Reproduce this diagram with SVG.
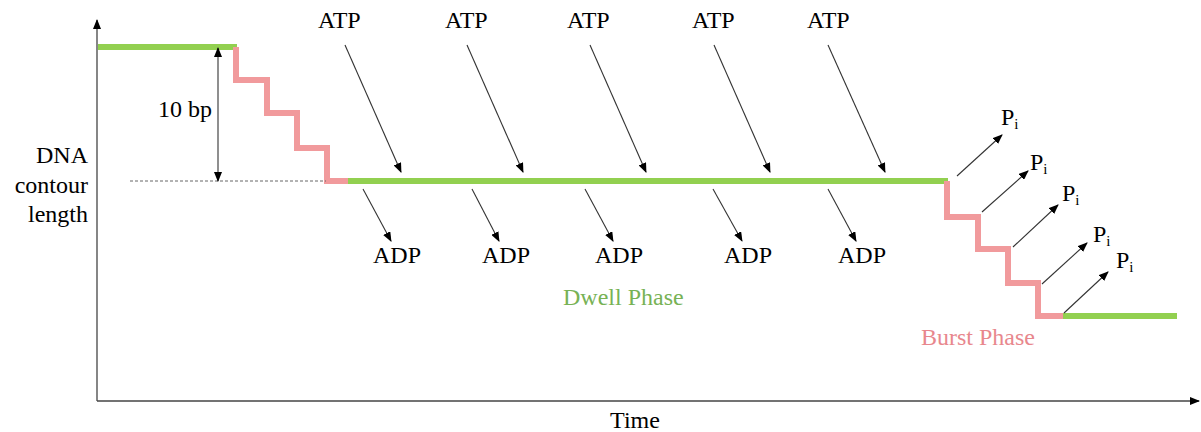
<svg xmlns="http://www.w3.org/2000/svg" width="1201" height="432" viewBox="0 0 1201 432" font-family="'Liberation Serif', 'DejaVu Serif', 'Times New Roman', serif">
<style>
text{font-family:'Liberation Serif','DejaVu Serif','Times New Roman',serif;font-size:24px;fill:#000}
.sub{font-size:15px}
.ax{stroke:#444;stroke-width:1.3;fill:none}
.arr{stroke:#333;stroke-width:1.1;fill:none;marker-end:url(#ah)}
.g{stroke:#92d050;stroke-width:6;fill:none}
.r{stroke:#f19a9c;stroke-width:6;fill:none;stroke-linejoin:miter}
</style>
<defs>
<marker id="ah" markerWidth="10" markerHeight="8" refX="9" refY="4" orient="auto" markerUnits="userSpaceOnUse">
<path d="M0,0 L10,4 L0,8 Z" fill="#000"/>
</marker>
<marker id="ax" markerWidth="10" markerHeight="8" refX="9" refY="4" orient="auto" markerUnits="userSpaceOnUse">
<path d="M0,0 L10,4 L0,8 Z" fill="#000"/>
</marker>
</defs>
<rect width="1201" height="432" fill="#fff"/>
<g id="axes">
<path class="ax" d="M97,401 V20" marker-end="url(#ax)"/>
<path class="ax" d="M97,401 H1199" marker-end="url(#ax)"/>
<text x="88" y="163" text-anchor="end">DNA</text>
<text x="88" y="193" text-anchor="end">contour</text>
<text x="88" y="222" text-anchor="end">length</text>
<text x="635" y="428" text-anchor="middle">Time</text>
</g>
<g id="trace">
<path class="g" d="M98,47 H237"/>
<path class="r" d="M236,47 V80 H267 V113 H297 V148 H327 V181 H349"/>
<path class="g" d="M348,181 H948"/>
<path class="r" d="M947,181 V217 H978 V249 H1008 V283 H1038 V316 H1064"/>
<path class="g" d="M1063,316 H1177"/>
</g>
<g id="step-size">
<path d="M130,181 H326" stroke="#666" stroke-width="1" stroke-dasharray="3,2" fill="none"/>
<path d="M218,114 V48" class="arr"/>
<path d="M218,114 V181" class="arr"/>
<text x="158" y="117">10 bp</text>
</g>
<g id="connectors">
<path class="arr" d="M345,45 L401,172"/>
<path class="arr" d="M467,45 L523,172"/>
<path class="arr" d="M590,45 L646,172"/>
<path class="arr" d="M714,45 L770,172"/>
<path class="arr" d="M828,45 L885,172"/>
<path class="arr" d="M363,189 L391,241"/>
<path class="arr" d="M472,189 L499,241"/>
<path class="arr" d="M585,189 L613,241"/>
<path class="arr" d="M713,189 L742,241"/>
<path class="arr" d="M828,189 L856,241"/>
<path class="arr" d="M957,176 L1002,135"/>
<path class="arr" d="M982,212 L1028,171"/>
<path class="arr" d="M1013,247 L1058,205"/>
<path class="arr" d="M1042,284 L1087,243"/>
<path class="arr" d="M1064,313 L1108,272"/>
</g>
<g id="atp-labels">
<text x="318" y="28">ATP</text>
<text x="445" y="28">ATP</text>
<text x="567" y="28">ATP</text>
<text x="692" y="28">ATP</text>
<text x="807" y="28">ATP</text>
</g>
<g id="adp-labels">
<text x="373" y="263">ADP</text>
<text x="482" y="263">ADP</text>
<text x="595" y="263">ADP</text>
<text x="724" y="263">ADP</text>
<text x="838" y="263">ADP</text>
</g>
<g id="pi-labels">
<text x="1001" y="125">P<tspan class="sub" dy="4">i</tspan></text>
<text x="1030" y="170">P<tspan class="sub" dy="4">i</tspan></text>
<text x="1062" y="201">P<tspan class="sub" dy="4">i</tspan></text>
<text x="1093" y="242">P<tspan class="sub" dy="4">i</tspan></text>
<text x="1116" y="268">P<tspan class="sub" dy="4">i</tspan></text>
</g>
<g id="phase-labels">
<text x="563" y="305" style="fill:#77b255">Dwell Phase</text>
<text x="921" y="345" style="fill:#e8878d">Burst Phase</text>
</g>
</svg>
